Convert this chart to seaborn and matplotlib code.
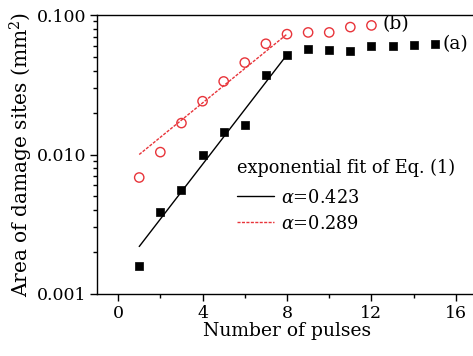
import numpy as np
import pandas as pd
import matplotlib
matplotlib.use("Agg")
import matplotlib.pyplot as plt
import seaborn as sns
from matplotlib.ticker import FixedLocator, LogLocator, NullFormatter, FormatStrFormatter

# measured data, series (a) black squares, (b) red circles
pulses_a = [1, 2, 3, 4, 5, 6, 7, 8, 9, 10, 11, 12, 13, 14, 15]
area_a = [0.0016, 0.00386, 0.00555, 0.0100, 0.0144, 0.0163, 0.037, 0.0519,
          0.0566, 0.0560, 0.0551, 0.0597, 0.0597, 0.0607, 0.0617]
pulses_b = [1, 2, 3, 4, 5, 6, 7, 8, 9, 10, 11, 12]
area_b = [0.00684, 0.0104, 0.0168, 0.0241, 0.0334, 0.0456, 0.0622, 0.0729,
          0.075, 0.075, 0.0819, 0.0842]

# fit line end points
fit_x = [1, 8]
fit_a = [0.00219, 0.0519]
fit_b = [0.0100, 0.0729]

sns.set_style("ticks")
plt.rcParams["font.family"] = ["DejaVu Serif"]
plt.rcParams["mathtext.fontset"] = "dejavuserif"
plt.rcParams["text.color"] = "black"
plt.rcParams["axes.labelcolor"] = "black"

fig = plt.figure(figsize=(4.73, 3.56), dpi=100)
ax = fig.add_axes([97 / 473, 62 / 356, 380 / 473, 279 / 356])

df_a = pd.DataFrame({"x": pulses_a, "y": area_a})
df_b = pd.DataFrame({"x": pulses_b, "y": area_b})

sns.scatterplot(data=df_a, x="x", y="y", marker="s", s=38, color="black",
                edgecolor="black", ax=ax, legend=False)
sns.scatterplot(data=df_b, x="x", y="y", marker="o", s=45, facecolor="none",
                edgecolor="#e8343a", linewidth=1.0, ax=ax, legend=False)
sns.lineplot(x=fit_x, y=fit_a, color="black", lw=1.0, ax=ax,
             label=r"$\alpha$=0.423")
sns.lineplot(x=fit_x, y=fit_b, color="#e8343a", lw=1.0, ls=(0, (2.2, 1.0)), ax=ax,
             label=r"$\alpha$=0.289")

ax.set_yscale("log")
ax.set_ylim(0.001, 0.1)
ax.set_xlim(-1, 17)
ax.yaxis.set_major_locator(FixedLocator([0.001, 0.01, 0.1]))
ax.yaxis.set_major_formatter(FormatStrFormatter("%.3f"))
ax.yaxis.set_minor_locator(LogLocator(base=10, subs=np.arange(2, 10)))
ax.yaxis.set_minor_formatter(NullFormatter())
ax.set_xticks([0, 4, 8, 12, 16])
ax.set_xticks([2, 6, 10, 14], minor=True)

ax.tick_params(which="major", direction="out", length=5, width=1, labelsize=12.5,
               colors="black", pad=3)
ax.tick_params(which="minor", direction="out", length=3, width=1, colors="black")
for side in ["left", "bottom", "top"]:
    ax.spines[side].set_linewidth(1.0)
    ax.spines[side].set_color("black")
ax.spines["right"].set_visible(False)
ax.spines["top"].set_visible(True)

ax.set_xlabel("Number of pulses", fontsize=13.5, labelpad=0)
ax.set_ylabel(r"Area of damage sites (mm$^2$)", fontsize=14.5, labelpad=1)

ax.text(15.35, 0.0617, "(a)", fontsize=13.5, va="center", ha="left")
ax.text(12.5, 0.0855, "(b)", fontsize=13.5, va="center", ha="left")

leg = ax.legend(loc="upper left", bbox_to_anchor=(0.345, 0.515), frameon=False,
                title="exponential fit of Eq. (1)", fontsize=12.8, title_fontsize=12.8,
                handlelength=2.1, handletextpad=0.4, labelspacing=0.45,
                borderpad=0.0)
leg._legend_box.align = "left"
leg._legend_box.sep = 8

fig.savefig("out.png", dpi=100)
